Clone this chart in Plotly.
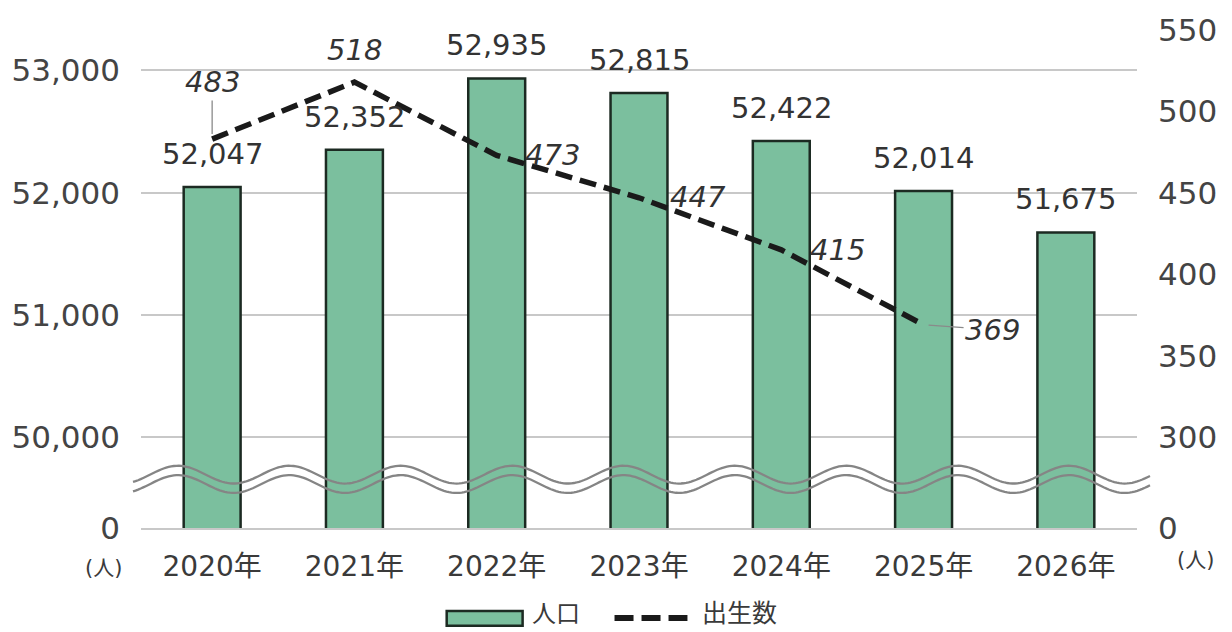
import numpy as np
import plotly.graph_objects as go

# ---- data ----
years = ["2020年", "2021年", "2022年", "2023年", "2024年", "2025年", "2026年"]
population = [52047, 52352, 52935, 52815, 52422, 52014, 51675]
births = [483, 518, 473, 447, 415, 369]
birth_years = years[:6]

left_ticks = [50000, 51000, 52000, 53000]
right_ticks = [300, 350, 400, 450, 500, 550]

# axis break positions (value that is drawn as "0" at the bottom)
left_zero = 49256
right_zero = 244.2
left_top = 53331
right_top = 550

FONT = "DejaVu Sans, Noto Sans CJK JP, sans-serif"
TXT = "#3a3a3a"
GRID = "#c8c8c8"
GREEN = "#7bbf9e"

# plot area geometry (pixels)
W, H = 1232, 632
L, R, T, B = 140, 1137, 24, 528


def px(x):
    return (x - L) / (R - L)


def py(y):
    return (B - y) / (B - T)


fig = go.Figure()
fig.add_trace(go.Bar(
    x=years, y=population, name="人口",
    marker=dict(color=GREEN, line=dict(color="#1c2a22", width=2.5)),
    yaxis="y", showlegend=False,
))
fig.add_trace(go.Scatter(
    x=birth_years, y=births, name="出生数", mode="lines",
    line=dict(color="#1a1a1a", width=5.5, dash="17px,8px"),
    yaxis="y2", showlegend=False, cliponaxis=False,
))

annotations = []
# bar labels
for yr, v in zip(years, population):
    annotations.append(dict(x=yr, y=v, xref="x", yref="y", text=f"{v:,}",
                            showarrow=False, yanchor="bottom", yshift=14,
                            font=dict(family=FONT, size=29, color="#333")))

# birth labels: (xshift, yshift, arrow)
label_pos = [(0, -57, True), (0, 32, False), (56, 0, False), (59, 1, False),
             (56, 0, False), (69, 5, True)]
for yr, v, (dx, dy, arrow) in zip(birth_years, births, label_pos):
    f = dict(family=FONT, size=29, color="#333", style="italic")
    if arrow:
        annotations.append(dict(x=yr, y=v, xref="x", yref="y2", text=str(v),
                                showarrow=True, ax=dx, ay=dy, arrowhead=0,
                                arrowwidth=1.3, arrowcolor="#8a8a8a", standoff=5,
                                font=f))
    else:
        annotations.append(dict(x=yr, y=v, xref="x", yref="y2", text=str(v),
                                showarrow=False, xshift=dx, yshift=dy, font=f))

# unit labels
annotations.append(dict(x=px(102), y=py(568), xref="paper", yref="paper", text="(人)",
                        showarrow=False, xanchor="center", yanchor="middle",
                        font=dict(family=FONT, size=21, color=TXT)))
annotations.append(dict(x=px(1196), y=py(560), xref="paper", yref="paper", text="(人)",
                        showarrow=False, xanchor="center", yanchor="middle",
                        font=dict(family=FONT, size=21, color=TXT)))

# custom legend
annotations.append(dict(x=px(530), y=py(615), xref="paper", yref="paper", text="人口",
                        showarrow=False, xanchor="left", yanchor="middle", borderpad=0,
                        font=dict(family=FONT, size=24, color=TXT)))
annotations.append(dict(x=px(701), y=py(615), xref="paper", yref="paper", text="出生数",
                        showarrow=False, xanchor="left", yanchor="middle", borderpad=0,
                        font=dict(family=FONT, size=25, color=TXT)))

shapes = [
    dict(type="rect", xref="paper", yref="paper", x0=px(446), x1=px(522),
         y0=py(612), y1=py(627), fillcolor=GREEN, line=dict(color="#1c2a22", width=2.5)),
    dict(type="line", xref="paper", yref="paper", x0=px(614), x1=px(687),
         y0=py(619), y1=py(619), line=dict(color="#1a1a1a", width=6, dash="19px,8px")),
]

# wavy break lines (decoration)
xs = np.linspace(132, 1150, 400)
for off in (0, 9.5):
    ys = 474 + off - 9 * np.cos(2 * np.pi * (xs - 177) / 111.5)
    path = "M " + " L ".join(f"{px(a):.5f},{py(b):.5f}" for a, b in zip(xs, ys))
    shapes.append(dict(type="path", xref="paper", yref="paper", path=path,
                       line=dict(color="#858585", width=2.3), layer="above"))

fig.update_layout(
    width=W, height=H,
    margin=dict(l=L, r=W - R, t=T, b=H - B),
    paper_bgcolor="white", plot_bgcolor="white",
    bargap=0.6,
    font=dict(family=FONT, color=TXT),
    xaxis=dict(showgrid=False, showline=True, linecolor=GRID, linewidth=2,
               tickfont=dict(family=FONT, size=28, color=TXT), ticks="",
               ticklabelstandoff=12),
    yaxis=dict(range=[left_zero, left_top],
               tickvals=[left_zero] + left_ticks,
               ticktext=["0"] + [f"{v:,}" for v in left_ticks],
               showgrid=True, gridcolor=GRID, gridwidth=2, zeroline=False,
               tickfont=dict(family=FONT, size=31, color="#444"), ticks="",
               ticklabelstandoff=20),
    yaxis2=dict(range=[right_zero, right_top], overlaying="y", side="right",
                tickvals=[right_zero] + right_ticks,
                ticktext=["0"] + [str(v) for v in right_ticks],
                showgrid=False, zeroline=False,
                tickfont=dict(family=FONT, size=31, color="#444"), ticks="",
                ticklabelstandoff=20),
    showlegend=False,
    annotations=annotations,
    shapes=shapes,
)

fig.write_html("out.html", config={"displayModeBar": False},
               post_script="document.body.style.margin='0px';document.body.style.overflow='hidden';")
